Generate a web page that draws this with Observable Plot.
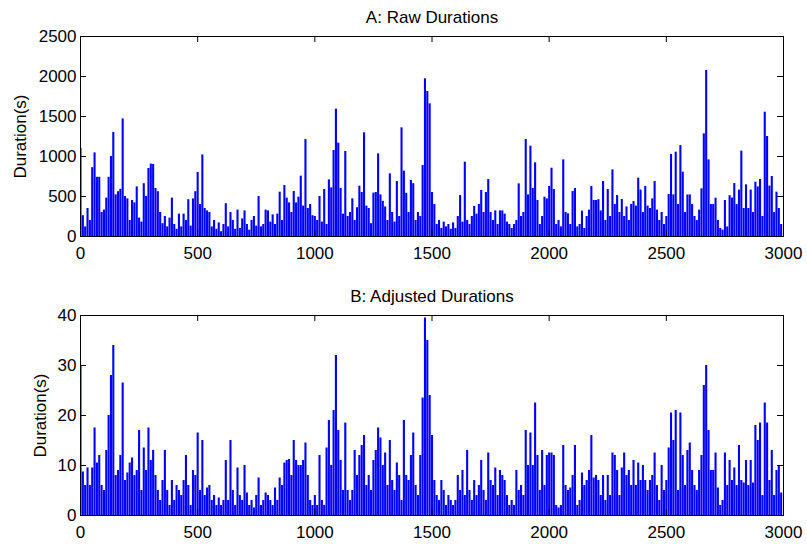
<!DOCTYPE html>
<html>
<head>
<meta charset="utf-8">
<script src="https://cdn.jsdelivr.net/npm/d3@7"></script>
<script src="https://cdn.jsdelivr.net/npm/@observablehq/plot@0.6"></script>
<style>
  html, body { margin: 0; padding: 0; background: #fff; }
  #chart { width: 807px; height: 544px; }
  #chart svg { display: block; }
</style>
</head>
<body>
<div id="chart"></div>
<script>
// Sample spacing of the readings (one reading per 10 observations)
const sampleStep = 10;

// Panel A: raw durations (s)
const rawDurations = [
  1100, 260, 120, 350, 200, 860, 1045, 740, 740, 300,
  330, 480, 740, 1000, 1300, 520, 560, 590, 1470, 500,
  470, 200, 450, 420, 620, 230, 180, 660, 500, 850,
  905, 900, 600, 560, 300, 160, 250, 120, 230, 480,
  150, 90, 280, 120, 280, 200, 460, 130, 470, 560,
  800, 400, 1020, 350, 320, 300, 120, 200, 90, 170,
  60, 150, 410, 120, 300, 200, 90, 330, 100, 220,
  320, 150, 80, 200, 250, 130, 500, 120, 150, 330,
  320, 180, 270, 150, 280, 554, 200, 637, 480, 420,
  300, 562, 420, 492, 754, 380, 1212, 350, 400, 260,
  250, 200, 500, 180, 587, 150, 708, 608, 1075, 1592,
  1167, 600, 280, 1062, 250, 300, 471, 200, 360, 629,
  550, 1296, 380, 350, 160, 542, 550, 1033, 520, 440,
  370, 200, 783, 300, 180, 687, 250, 1358, 817, 540,
  300, 700, 660, 200, 300, 250, 887, 1971, 1812, 1658,
  550, 400, 150, 200, 100, 180, 120, 150, 90, 170,
  100, 250, 512, 180, 929, 200, 150, 250, 375, 280,
  400, 575, 300, 550, 712, 300, 200, 320, 150, 320,
  320, 280, 180, 150, 100, 150, 200, 658, 250, 300,
  1212, 520, 1129, 600, 921, 450, 150, 250, 492, 470,
  625, 854, 587, 150, 200, 120, 958, 300, 283, 150,
  562, 600, 120, 150, 317, 100, 250, 330, 625, 450,
  450, 460, 320, 687, 200, 587, 250, 833, 400, 512,
  300, 462, 250, 370, 200, 400, 437, 380, 729, 580,
  300, 625, 380, 350, 470, 687, 330, 200, 300, 150,
  250, 525, 1025, 520, 1054, 400, 1137, 804, 300, 519,
  520, 400, 250, 200, 330, 596, 1283, 2075, 958, 400,
  400, 479, 200, 100, 80, 450, 120, 510, 480, 662,
  400, 580, 1067, 350, 646, 350, 580, 300, 679, 620,
  712, 250, 1554, 1250, 630, 750, 300, 554, 350, 150
];

// Panel B: adjusted durations (s)
const adjustedDurations = [
  30, 8.7, 6, 9.5, 6, 9.5, 17.5, 10.5, 12, 6,
  5, 13, 20, 28, 34, 8, 9, 12, 26.5, 7,
  8.5, 10.5, 11.5, 8, 9, 17, 5, 13.5, 9, 17.5,
  11, 13, 8, 5, 3, 7, 13, 5, 2, 7,
  3, 6, 5, 4, 7, 12, 6, 2, 9, 8,
  16.5, 5, 15, 4, 5.5, 6, 3, 4, 2, 3.5,
  2, 3, 11, 3, 15, 5, 2, 9.5, 4, 3,
  10, 4.5, 2, 3, 1.5, 4, 7.5, 2, 3, 4.5,
  4, 3, 2, 5.5, 3, 7.5, 6, 10.5, 11, 11.2,
  8, 15, 11, 10, 10, 11, 14.5, 8, 3, 2,
  4, 2, 12, 3, 2, 13.5, 19, 10, 21, 32,
  17, 11, 5, 18.5, 5, 3, 5, 13, 8, 12,
  14, 16, 6, 8, 5, 11, 13, 17.5, 15.5, 10,
  12.5, 6, 15, 7, 5, 10.5, 8, 3, 19, 8,
  7, 12, 16.5, 6, 4, 12, 23.5, 39.5, 35, 24,
  16, 7, 4, 3, 7, 5, 2, 4, 3, 2,
  3, 8, 5, 9, 4, 13, 5, 3, 7, 4,
  6, 11, 5, 3, 12.5, 7, 6, 9.5, 4, 9,
  8, 7, 4, 2, 3, 2, 9, 5, 6, 4,
  17, 10, 16.5, 10, 22.5, 12, 5, 13, 6, 12,
  12.5, 12.5, 12, 2, 1.5, 2, 14, 6, 5, 5.5,
  8, 14, 2, 3, 8.5, 6, 7, 9, 16, 7.5,
  8, 7, 4, 8, 3, 8, 4, 12.5, 12, 9,
  4, 9.5, 12.5, 8, 9, 6, 11, 6, 10.5, 7,
  10, 7, 5, 7, 8, 12.5, 6, 3, 10, 5,
  7, 13.5, 20.5, 15, 21, 5, 20.5, 12, 6, 13,
  14.5, 9, 6, 5, 9, 12, 26, 30, 17, 9,
  9, 12.5, 5.5, 2, 3, 12.5, 6, 11, 7, 9.5,
  6, 14, 7, 6.5, 11, 6, 11, 6.5, 18, 15,
  18.5, 4, 22.5, 18.5, 7, 13, 4, 9, 10, 4.5
];

const xTicks = [0, 500, 1000, 1500, 2000, 2500, 3000];
const yTicksA = [0, 500, 1000, 1500, 2000, 2500];
const yTicksB = [0, 10, 20, 30, 40];
const titleA = "A: Raw Durations";
const titleB = "B: Adjusted Durations";
const yLabel = "Duration(s)";

const W = 807, mL = 80, mR = 24, plotH = 200, tick = 6;
const plotW = W - mL - mR;
const font = "'Liberation Sans', Arial, Helvetica, sans-serif";

function panel(values, yDomain, yTicks, title, mTop, mBottom, labelDx) {
  const data = values.map((v, k) => ({x: k * sampleStep, y: v}));
  return Plot.plot({
    width: W,
    height: mTop + plotH + mBottom,
    marginLeft: mL,
    marginRight: mR,
    marginTop: mTop,
    marginBottom: mBottom,
    style: {fontFamily: font, fontSize: "17px", color: "#000", background: "#fff", overflow: "visible"},
    x: {domain: [0, 3000]},
    y: {domain: yDomain},
    marks: [
      // each reading drawn as a vertical stroke from 0, like a dense 3000-point line
      Plot.ruleX(data, {x: "x", y: "y", stroke: "#0000ff", strokeWidth: 2.1, clip: true}),
      Plot.frame({stroke: "#000", strokeWidth: 1}),
      // inward ticks on all four sides (MATLAB style)
      Plot.tickX(xTicks, {x: d => d, insetTop: plotH - tick, stroke: "#000"}),
      Plot.tickX(xTicks, {x: d => d, insetBottom: plotH - tick, stroke: "#000"}),
      Plot.tickY(yTicks, {y: d => d, insetRight: plotW - tick, stroke: "#000"}),
      Plot.tickY(yTicks, {y: d => d, insetLeft: plotW - tick, stroke: "#000"}),
      Plot.axisX(xTicks, {anchor: "bottom", tickSize: 0, tickPadding: 10, tickFormat: d => String(d), label: null, fill: "#000"}),
      Plot.axisY(yTicks, {anchor: "left", tickSize: 0, tickPadding: 4, tickFormat: d => String(d), label: null, fill: "#000"}),
      Plot.text([title], {frameAnchor: "top", lineAnchor: "middle", dy: -19, text: d => d, fill: "#000", fontSize: 17}),
      Plot.text([yLabel], {frameAnchor: "left", textAnchor: "middle", lineAnchor: "middle", dx: labelDx, rotate: -90, text: d => d, fill: "#000", fontSize: 17})
    ]
  });
}

const chart = document.getElementById("chart");
chart.appendChild(panel(rawDurations, [0, 2500], yTicksA, titleA, 36, 36, -60));
chart.appendChild(panel(adjustedDurations, [0, 40], yTicksB, titleB, 43, 29, -40));
</script>
</body>
</html>
